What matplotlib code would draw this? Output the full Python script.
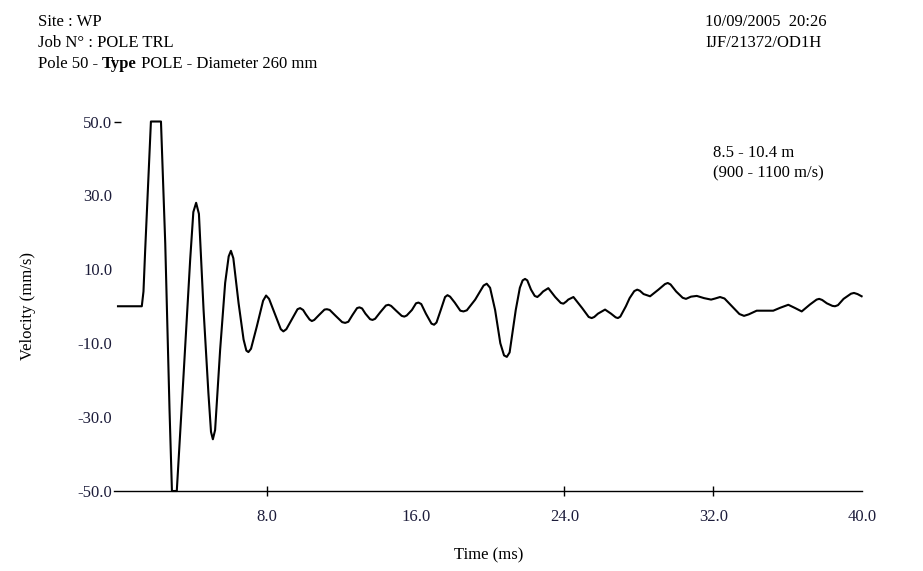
import matplotlib
matplotlib.use('Agg')
import matplotlib.pyplot as plt

plt.rcParams['font.family'] = ['Liberation Serif', 'DejaVu Serif']

# velocity trace (time in ms, velocity in mm/s)
time_ms = [0.0, 1.28, 1.37, 1.46, 1.64, 1.77, 2.31, 2.54, 2.77, 2.90, 3.16,
           3.52, 3.88, 4.05, 4.20, 4.35, 4.60, 4.86, 5.00, 5.10, 5.22, 5.49,
           5.76, 5.95, 6.07, 6.20, 6.48, 6.75, 6.90, 7.01, 7.15, 7.46, 7.80,
           7.96, 8.12, 8.43, 8.75, 8.89, 9.05, 9.35, 9.65, 9.79, 9.95, 10.10,
           10.30, 10.42, 10.55, 10.80, 11.10, 11.23, 11.38, 11.70, 12.05, 12.21,
           12.38, 12.60, 12.85, 12.98, 13.12, 13.30, 13.55, 13.68, 13.82,
           14.10, 14.40, 14.54, 14.68, 14.95, 15.25, 15.39, 15.52, 15.80,
           16.02, 16.15, 16.30, 16.55, 16.85, 16.99, 17.12, 17.35, 17.58,
           17.71, 17.85, 18.10, 18.40, 18.57, 18.75, 19.20, 19.65, 19.82,
           20.00, 20.27, 20.55, 20.75, 20.90, 21.05, 21.38, 21.60, 21.75,
           21.88, 22.00, 22.20, 22.40, 22.54, 22.70, 22.85, 23.13, 23.50,
           23.80, 23.94, 24.10, 24.20, 24.48, 24.95, 25.30, 25.46, 25.60,
           25.80, 26.18, 26.50, 26.75, 26.87, 27.00, 27.30, 27.50, 27.75,
           27.91, 28.05, 28.25, 28.60, 29.05, 29.40, 29.55, 29.70, 30.00,
           30.35, 30.53, 30.80, 31.11, 31.50, 31.88, 32.10, 32.36, 32.60,
           33.00, 33.40, 33.65, 33.90, 34.33, 35.22, 35.60, 36.03, 36.40,
           36.75, 37.20, 37.55, 37.69, 37.85, 38.10, 38.40, 38.54, 38.70,
           39.00, 39.40, 39.56, 39.75, 39.97]
velocity = [0.0, 0.0, 4.0, 15.0, 35.0, 50.0, 50.0, 17.0, -28.0, -50.0, -50.0,
            -19.0, 12.6, 25.5, 28.0, 25.0, -1.0, -23.5, -34.0, -36.0, -33.5, -11.8,
            6.3, 13.5, 15.0, 13.0, 0.9, -9.0, -12.0, -12.4, -11.5, -5.5, 1.5,
            2.9, 2.0, -2.0, -6.2, -6.8, -6.2, -3.5, -0.8, -0.5, -1.0, -2.2,
            -3.6, -4.0, -3.7, -2.4, -0.9, -0.8, -1.0, -2.6, -4.3, -4.5,
            -4.2, -2.4, -0.5, -0.3, -0.6, -2.0, -3.5, -3.7, -3.4,
            -1.6, 0.2, 0.4, 0.1, -1.2, -2.6, -2.8, -2.5, -1.0,
            0.8, 1.0, 0.6, -2.0, -4.7, -5.0, -4.4, -1.0, 2.5,
            3.0, 2.6, 1.0, -1.2, -1.4, -1.1, 1.8, 5.6, 6.1,
            5.0, -1.0, -10.0, -13.3, -13.7, -12.5, -1.0, 5.0, 7.0,
            7.4, 7.0, 4.5, 2.8, 2.5, 3.2, 4.0, 4.9, 2.5,
            0.9, 0.7, 1.3, 1.8, 2.5, -0.5, -2.9, -3.2, -2.9,
            -2.0, -0.9, -2.0, -3.0, -3.2, -2.8, 0.0, 2.2, 4.1,
            4.5, 4.2, 3.3, 2.7, 4.5, 6.0, 6.3, 5.9, 4.0,
            2.3, 2.0, 2.6, 2.8, 2.2, 1.8, 2.1, 2.5, 2.1,
            0.0, -2.1, -2.6, -2.2, -1.2, -1.2, -0.4, 0.4, -0.5,
            -1.4, 0.5, 1.8, 2.0, 1.7, 0.8, 0.1, 0.0, 0.3,
            2.0, 3.4, 3.6, 3.3, 2.7]

y_ticks = [50, 30, 10, -10, -30, -50]
x_ticks = [8, 16, 24, 32, 40]
x_marks = [8, 24, 32]

header_left = ['Site : WP', 'Job N\u00b0 : POLE TRL']
header_right = ['10/09/2005  20:26', 'IJF/21372/OD1H']
zone_text = ['8.5 - 10.4 m', '(900 - 1100 m/s)']

fs = 12

fig = plt.figure(figsize=(9.23, 5.71), dpi=100)
ax = fig.add_axes([0.1238, 0.1401, 0.8103, 0.6471])

ax.plot(time_ms, velocity, color='black', lw=1.5, clip_on=False)

ax.set_xlim(-0.2, 40)
ax.set_ylim(-50, 50)
for s in ['top', 'right', 'left']:
    ax.spines[s].set_visible(False)
ax.spines['bottom'].set_linewidth(1.0)
ax.xaxis.remove_overlapping_locs = False
ax.yaxis.remove_overlapping_locs = False

ax.set_yticks(y_ticks)
ax.set_yticklabels(['%.1f' % v for v in y_ticks])
ax.set_yticks([50], minor=True)
ax.tick_params(axis='y', which='major', length=0, pad=1.5, labelsize=fs,
               labelcolor='#1c1c3a')
ax.tick_params(axis='y', which='minor', length=5, direction='in', width=1)

ax.set_xticks(x_ticks)
ax.set_xticklabels(['%.1f' % v for v in x_ticks])
ax.set_xticks(x_marks, minor=True)
ax.tick_params(axis='x', which='major', length=0, pad=13, labelsize=fs,
               labelcolor='#1c1c3a')
ax.tick_params(axis='x', which='minor', length=7, direction='inout', width=1)

ax.set_xlabel('Time (ms)', fontsize=fs, labelpad=16)
ax.set_ylabel('Velocity (mm/s)', fontsize=fs, labelpad=30)

# header
fig.text(38 / 923, 1 - 26 / 571, header_left[0], fontsize=fs, va='baseline')
fig.text(38 / 923, 1 - 47 / 571, header_left[1], fontsize=fs, va='baseline')
t1 = fig.text(38 / 923, 1 - 68 / 571, 'Pole 50 - ', fontsize=fs, va='baseline')
t2 = plt.annotate('Type', xy=(1, 0), xycoords=t1, fontsize=fs,
                  fontweight='bold', va='bottom')
plt.annotate(' POLE - Diameter 260 mm', xy=(1, 0), xycoords=t2, fontsize=fs,
             va='bottom')
fig.text(705 / 923, 1 - 26 / 571, header_right[0], fontsize=fs, va='baseline')
fig.text(705 / 923, 1 - 47 / 571, header_right[1], fontsize=fs, va='baseline')

fig.text(713 / 923, 1 - 157 / 571, zone_text[0], fontsize=fs, va='baseline')
fig.text(713 / 923, 1 - 177 / 571, zone_text[1], fontsize=fs, va='baseline')

fig.savefig('out.png', dpi=100)
